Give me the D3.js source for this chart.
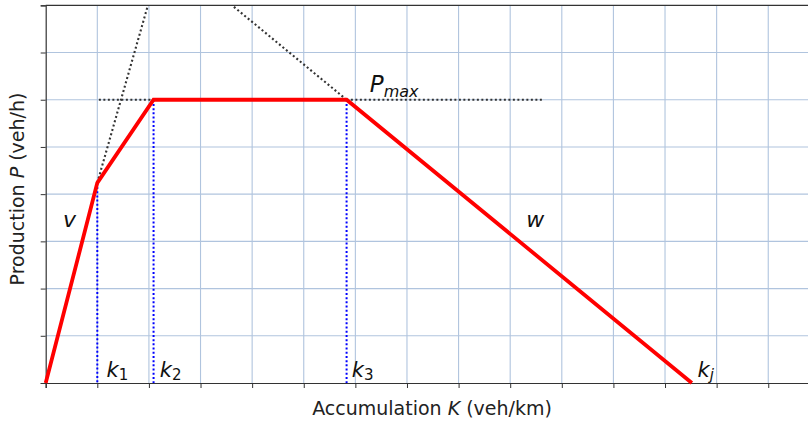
<!DOCTYPE html>
<html>
<head>
<meta charset="utf-8">
<script src="https://cdn.jsdelivr.net/npm/d3@7"></script>
<style>
  html, body { margin: 0; padding: 0; background: #fff; }
  svg { display: block; font-family: "DejaVu Sans", sans-serif; }
</style>
</head>
<body>
<svg id="chart" width="808" height="423"></svg>
<script>
// ---- data (chart units) ----
const xTicks = [0,1,2,3,4,5,6,7,8,9,10,11,12,13,14,15];
const yTicks = [0,1,2,3,4,5,6,7,8];
const curveK = [0, 1.0, 2.09, 5.83, 12.52];
const curveP = [0, 4.24, 6.0, 6.0, 0];
const freeSlopeK = [1.0, 1.98];
const freeSlopeP = [4.24, 8];
const congSlopeK = [5.83, 3.61];
const congSlopeP = [6.0, 8];
const pmaxK = [1.03, 9.66];
const pmaxP = [6.0, 6.0];
const critK = [1.0, 2.09, 5.83];
const critP = [4.24, 6.0, 6.0];
const kLabels = ["1", "2", "3", "j"];
const kLabelK = [1.18, 2.21, 5.93, 12.63];
const kLabelP = [0.13, 0.13, 0.13, 0.13];

const svg = d3.select("#chart");
const x = d3.scaleLinear().domain([0, 15]).range([45.7, 45.7 + 15 * 51.61]);
const y = d3.scaleLinear().domain([0, 8]).range([383, 5.3]);

const W = 808;
// grid
const g = svg.append("g");
g.selectAll(".vg").data(xTicks.filter(d => d > 0)).join("line")
  .attr("x1", d => x(d)).attr("x2", d => x(d))
  .attr("y1", y(0)).attr("y2", y(8))
  .attr("stroke", "#b0c4de").attr("stroke-width", 1.1);
g.selectAll(".hg").data(yTicks.filter(d => d > 0 && d < 8)).join("line")
  .attr("x1", x(0)).attr("x2", W)
  .attr("y1", d => y(d)).attr("y2", d => y(d))
  .attr("stroke", "#b0c4de").attr("stroke-width", 1.1);

// axes
const xAxis = d3.axisBottom(x).tickValues(xTicks).tickFormat("").tickSizeOuter(0).tickSize(5);
const yAxis = d3.axisLeft(y).tickValues(yTicks).tickFormat("").tickSizeOuter(0).tickSize(5);
const gx = svg.append("g").attr("transform", `translate(0,${y(0)})`).call(xAxis);
const gy = svg.append("g").attr("transform", `translate(${x(0)},0)`).call(yAxis);
[gx, gy].forEach(a => {
  a.select(".domain").attr("stroke", "#333").attr("stroke-width", 1.2);
  a.selectAll(".tick line").attr("stroke", "#333").attr("stroke-width", 1);
});
svg.append("line").attr("x1", x(0)).attr("x2", W).attr("y1", y(8)).attr("y2", y(8))
  .attr("stroke", "#333").attr("stroke-width", 1.2);

const line = d3.line().x(d => x(d[0])).y(d => y(d[1]));
const zip = (a, b) => a.map((v, i) => [v, b[i]]);

// blue dotted critical lines
critK.forEach((k, i) => {
  svg.append("path").attr("d", line([[k, critP[i]], [k, 0]]))
    .attr("fill", "none").attr("stroke", "#0000ff").attr("stroke-width", 2)
    .attr("stroke-dasharray", "2,2.2");
});

// black dotted helper lines
[[freeSlopeK, freeSlopeP], [congSlopeK, congSlopeP], [pmaxK, pmaxP]].forEach(([a, b]) => {
  svg.append("path").attr("d", line(zip(a, b)))
    .attr("fill", "none").attr("stroke", "#333").attr("stroke-width", 2.1)
    .attr("stroke-dasharray", "2,2.5");
});

// red MFD
svg.append("path").attr("d", line(zip(curveK, curveP)))
  .attr("fill", "none").attr("stroke", "#ff0000").attr("stroke-width", 3.8)
  .attr("stroke-linejoin", "miter");

// text labels
const txt = (k, p, s, size) => svg.append("text").attr("x", x(k)).attr("y", y(p))
  .attr("font-size", size).attr("font-style", "italic").attr("fill", "#111").text(s);

txt(0.335, 3.30, "v", 22);
txt(9.31, 3.31, "w", 22);
const pm = txt(6.28, 6.16, "P", 23);
pm.append("tspan").attr("font-size", 16).attr("dy", 5).text("max");

kLabels.forEach((s, i) => {
  const t = txt(kLabelK[i], kLabelP[i], "k", 21);
  t.append("tspan").attr("font-size", 15).attr("font-style", s === "j" ? "italic" : "normal")
    .attr("dy", 3).text(s);
});

// axis titles
const xt = svg.append("text").attr("x", 432).attr("y", 415).attr("text-anchor", "middle")
  .attr("font-size", 19).attr("fill", "#222");
xt.append("tspan").text("Accumulation ");
xt.append("tspan").attr("font-style", "italic").text("K");
xt.append("tspan").text(" (veh/km)");

const yt = svg.append("text").attr("transform", "translate(24,189) rotate(-90)")
  .attr("text-anchor", "middle").attr("font-size", 19).attr("fill", "#222");
yt.append("tspan").text("Production ");
yt.append("tspan").attr("font-style", "italic").text("P");
yt.append("tspan").text(" (veh/h)");
</script>
</body>
</html>
